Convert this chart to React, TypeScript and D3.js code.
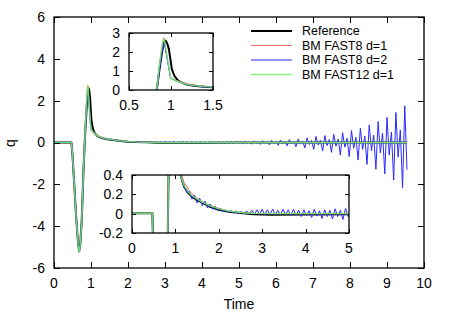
import React, { useEffect, useRef } from "react";
import * as d3 from "d3";

// Reference solution
const refT = [0, 0.47, 0.5, 0.55, 0.6, 0.65, 0.68, 0.71, 0.75, 0.8, 0.83, 0.86, 0.89, 0.915, 0.935, 0.955, 0.975, 0.99, 1.01, 1.04, 1.07, 1.1, 1.15, 1.2, 1.3, 1.4, 1.5, 1.6, 1.8, 2.0, 2.2, 2.5, 2.8, 3.2, 4, 5, 6, 7, 8, 9, 9.54];
const refQ = [0.005, 0.005, -0.6, -2.1, -3.6, -4.8, -5.2, -4.9, -3.7, -1.2, 0, 1.0, 1.9, 2.5, 2.6, 2.45, 2.15, 1.7, 1.1, 0.75, 0.57, 0.45, 0.35, 0.28, 0.21, 0.17, 0.14, 0.12, 0.07, 0.04, 0.022, 0.006, -0.006, -0.01, -0.008, -0.005, -0.003, -0.002, -0.001, 0, 0];

// BM FAST8 d=1
const redT = [0, 0.47, 0.5, 0.55, 0.6, 0.65, 0.68, 0.71, 0.75, 0.8, 0.83, 0.86, 0.88, 0.91, 0.995, 1.05, 1.1, 1.15, 1.2, 1.25, 1.3, 1.4, 1.5, 1.6, 1.8, 2.0, 2.2, 2.5, 2.8, 3.2, 4, 5, 6, 7, 8, 9, 9.54];
const redQ = [0.005, 0.005, -0.6, -2.1, -3.6, -4.8, -5.25, -4.9, -3.7, -1.2, 0, 1.2, 1.9, 2.75, 0.65, 0.53, 0.45, 0.39, 0.32, 0.29, 0.25, 0.2, 0.16, 0.13, 0.085, 0.055, 0.03, 0.012, 0.003, 0, 0, 0, 0, 0, 0, 0, 0];

// BM FAST8 d=2: pulse part, then samples every 0.06 from t = 1.2
const blueHeadT = [0, 0.47, 0.5, 0.55, 0.6, 0.65, 0.68, 0.71, 0.75, 0.8, 0.835, 0.86, 0.89, 0.92, 0.995, 1.05, 1.1, 1.15];
const blueHeadQ = [0.005, 0.005, -0.6, -2.1, -3.6, -4.8, -5.2, -4.9, -3.7, -1.3, 0, 1.0, 1.9, 2.5, 0.62, 0.5, 0.41, 0.34];
const blueTailStart = 1.2;
const blueTailStep = 0.06;
const blueTailQ = [
  0.29, 0.22, 0.23, 0.15, 0.19, 0.11, 0.16, 0.08, 0.13, 0.06,
  0.1, 0.045, 0.075, 0.03, 0.055, 0.02, 0.04, 0.012, 0.035, 0.005,
  0.03, 0.0, 0.025, -0.002, 0.03, -0.005, 0.035, -0.008, 0.04, -0.01,
  0.045, -0.012, 0.04, -0.01, 0.048, -0.015, 0.035, -0.01, 0.045, -0.012,
  0.04, -0.02, 0.045, -0.015, 0.035, -0.03, 0.04, -0.02, 0.03, -0.04,
  0.045, -0.025, 0.03, -0.05, 0.04, -0.03, 0.035, -0.055, 0.05, -0.03,
  0.035, -0.06, 0.055, -0.03, 0.03, -0.07, 0.065, -0.03, 0.03, -0.08,
  0.075, -0.035, 0.035, -0.09, 0.085, -0.04, 0.04, -0.11, 0.1, -0.045,
  0.045, -0.13, 0.12, -0.05, 0.05, -0.16, 0.14, -0.06, 0.06, -0.2,
  0.17, -0.08, 0.07, -0.26, 0.22, -0.1, 0.1, -0.33, 0.29, -0.12,
  0.12, -0.41, 0.33, -0.15, 0.14, -0.47, 0.39, -0.18, 0.16, -0.6,
  0.47, -0.22, 0.2, -0.68, 0.57, -0.27, 0.25, -0.84, 0.68, -0.33,
  0.3, -1.05, 0.84, -0.4, 0.36, -1.28, 1.0, -0.5, 0.45, -1.5,
  1.2, -0.6, 0.5, -1.8, 1.44, -0.7, 0.6, -2.16, 1.75, -1.3,
];

// BM FAST12 d=1
const greenT = [0, 0.47, 0.5, 0.55, 0.6, 0.65, 0.68, 0.71, 0.75, 0.8, 0.83, 0.86, 0.88, 0.9, 0.92, 0.995, 1.05, 1.1, 1.15, 1.2, 1.3, 1.4, 1.5, 1.6, 1.8, 2.0, 2.2, 2.5, 2.8, 3.2, 4, 5, 6, 7, 8, 9, 9.54];
const greenQ = [0.005, 0.005, -0.6, -2.1, -3.6, -4.8, -5.25, -4.9, -3.7, -1.2, 0, 1.2, 1.9, 2.5, 2.7, 0.62, 0.5, 0.42, 0.35, 0.29, 0.22, 0.18, 0.15, 0.125, 0.08, 0.05, 0.03, 0.012, 0.003, 0, 0, 0, 0, 0, 0, 0, 0];

const legendNames = ["Reference", "BM FAST8 d=1", "BM FAST8 d=2", "BM FAST12 d=1"];

const mainXTicks = [0, 1, 2, 3, 4, 5, 6, 7, 8, 9, 10];
const mainYTicks = [-6, -4, -2, 0, 2, 4, 6];
const inset1XTicks = [0.5, 1, 1.5];
const inset1YTicks = [0, 1, 2, 3];
const inset2XTicks = [0, 1, 2, 3, 4, 5];
const inset2YTicks = [-0.2, 0, 0.2, 0.4];

type Pt = [number, number];
const zip = (t: number[], q: number[]): Pt[] => t.map((v, i) => [v, q[i]] as Pt);

const bluePts: Pt[] = [
  ...zip(blueHeadT, blueHeadQ),
  ...blueTailQ.map((q, i) => [blueTailStart + i * blueTailStep, q] as Pt),
];

const series = [
  { name: legendNames[0], color: "#000000", width: 2, opacity: 1, pts: zip(refT, refQ) },
  { name: legendNames[1], color: "#ff6a6a", width: 1, opacity: 1, pts: zip(redT, redQ) },
  { name: legendNames[2], color: "#2a2aff", width: 1, opacity: 1, pts: bluePts },
  { name: legendNames[3], color: "#6cf26c", width: 1.4, opacity: 0.85, pts: zip(greenT, greenQ) },
];

const FONT = "'Liberation Sans', Arial, Helvetica, sans-serif";

interface Box { x0: number; x1: number; y0: number; y1: number }

function drawPanel(
  svg: d3.Selection<SVGSVGElement, unknown, null, undefined>,
  id: string,
  box: Box,
  xDom: [number, number],
  yDom: [number, number],
  xTicks: number[],
  yTicks: number[],
  tickLen: number,
) {
  const x = d3.scaleLinear().domain(xDom).range([box.x0, box.x1]);
  const y = d3.scaleLinear().domain(yDom).range([box.y1, box.y0]);
  const g = svg.append("g");

  g.append("rect")
    .attr("x", box.x0).attr("y", box.y0)
    .attr("width", box.x1 - box.x0).attr("height", box.y1 - box.y0)
    .attr("fill", "#fff");

  g.append("clipPath").attr("id", id)
    .append("rect")
    .attr("x", box.x0).attr("y", box.y0)
    .attr("width", box.x1 - box.x0).attr("height", box.y1 - box.y0);

  // ticks, inward on all four sides
  const tk = g.append("g").attr("stroke", "#000").attr("stroke-width", 1);
  xTicks.forEach((v) => {
    const px = Math.round(x(v)) + 0.5;
    tk.append("line").attr("x1", px).attr("x2", px).attr("y1", box.y1).attr("y2", box.y1 - tickLen);
    tk.append("line").attr("x1", px).attr("x2", px).attr("y1", box.y0).attr("y2", box.y0 + tickLen);
  });
  yTicks.forEach((v) => {
    const py = Math.round(y(v)) + 0.5;
    tk.append("line").attr("x1", box.x0).attr("x2", box.x0 + tickLen).attr("y1", py).attr("y2", py);
    tk.append("line").attr("x1", box.x1).attr("x2", box.x1 - tickLen).attr("y1", py).attr("y2", py);
  });

  const line = d3.line<Pt>().x((d) => x(d[0])).y((d) => y(d[1]));
  const lines = g.append("g").attr("clip-path", `url(#${id})`);
  series.forEach((s) => {
    lines.append("path")
      .attr("d", line(s.pts))
      .attr("fill", "none")
      .attr("stroke", s.color)
      .attr("stroke-width", s.width)
      .attr("stroke-opacity", s.opacity)
      .attr("stroke-linejoin", "round");
  });

  g.append("rect")
    .attr("x", box.x0).attr("y", box.y0)
    .attr("width", box.x1 - box.x0).attr("height", box.y1 - box.y0)
    .attr("fill", "none").attr("stroke", "#000").attr("stroke-width", 1.3);

  const labels = g.append("g").attr("font-family", FONT).attr("font-size", 14).attr("fill", "#000");
  xTicks.forEach((v) => {
    labels.append("text").attr("x", x(v)).attr("y", box.y1 + 20)
      .attr("text-anchor", "middle").text(String(v));
  });
  yTicks.forEach((v) => {
    labels.append("text").attr("x", box.x0 - 9).attr("y", y(v)).attr("dy", "0.35em")
      .attr("text-anchor", "end").text(String(v));
  });
}

const App: React.FC = () => {
  const ref = useRef<SVGSVGElement | null>(null);

  useEffect(() => {
    const svg = d3.select(ref.current as SVGSVGElement);
    svg.selectAll("*").remove();

    const mainBox = { x0: 54, x1: 424, y0: 17, y1: 268 };
    drawPanel(svg, "clip-main", mainBox, [0, 10], [-6, 6], mainXTicks, mainYTicks, 6);

    // legend
    const lg = svg.append("g").attr("font-family", FONT).attr("font-size", 12.5);
    series.forEach((s, i) => {
      const yy = 31 + i * 14.5;
      lg.append("line").attr("x1", 251).attr("x2", 292).attr("y1", yy).attr("y2", yy)
        .attr("stroke", s.color).attr("stroke-width", s.width).attr("stroke-opacity", s.opacity);
      lg.append("text").attr("x", 302).attr("y", yy).attr("dy", "0.35em").text(s.name);
    });

    drawPanel(svg, "clip-in1", { x0: 129, x1: 213, y0: 33, y1: 90 }, [0.5, 1.5], [0, 3], inset1XTicks, inset1YTicks, 4);
    drawPanel(svg, "clip-in2", { x0: 132, x1: 349, y0: 175, y1: 233 }, [0, 5], [-0.2, 0.4], inset2XTicks, inset2YTicks, 4);

    svg.append("text").attr("x", 239).attr("y", 309).attr("text-anchor", "middle")
      .attr("font-family", FONT).attr("font-size", 14).text("Time");
    svg.append("text").attr("transform", "translate(15,143) rotate(-90)").attr("text-anchor", "middle")
      .attr("font-family", FONT).attr("font-size", 14).text("q");
  }, []);

  return (
    <svg ref={ref} width={450} height={315}
      style={{ position: "absolute", left: 0, top: 0, background: "#fff" }} />
  );
};

export default App;
